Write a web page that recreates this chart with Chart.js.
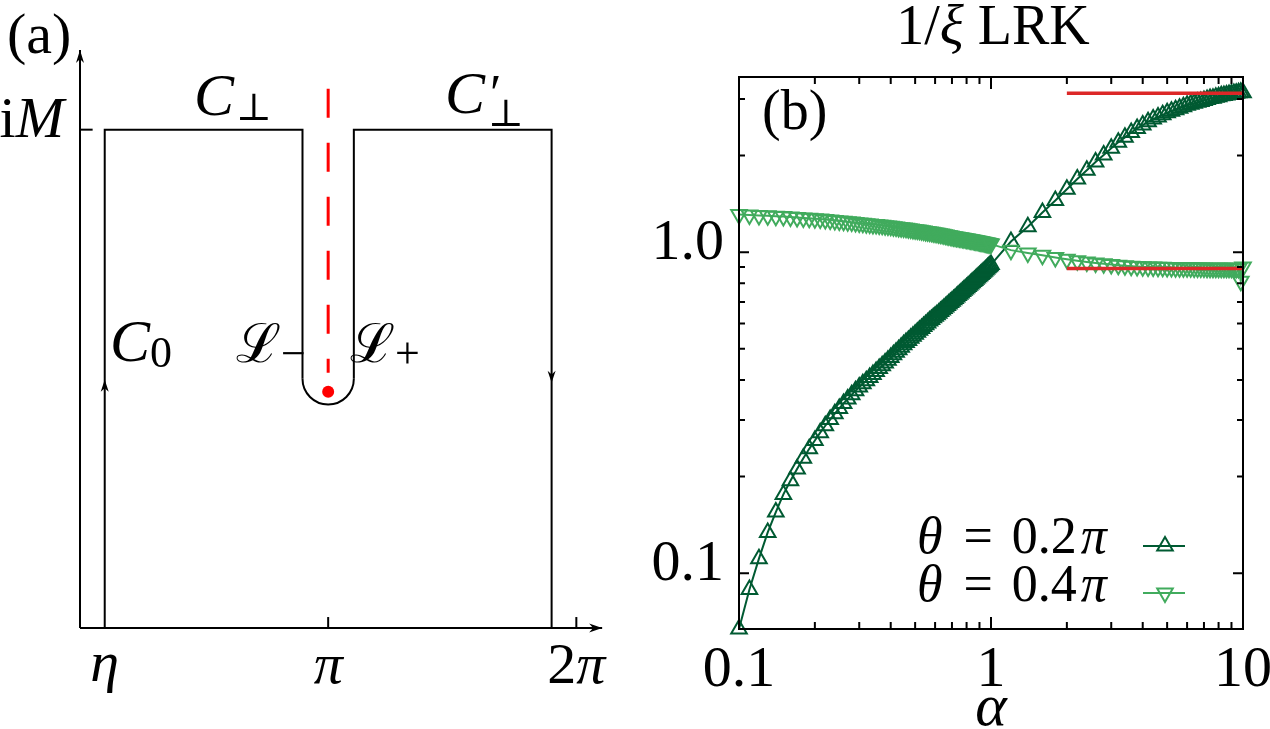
<!DOCTYPE html>
<html>
<head>
<meta charset="utf-8">
<script src="https://cdn.jsdelivr.net/npm/chart.js@4.4.1/dist/chart.umd.min.js"></script>
<style>
  html, body { margin: 0; padding: 0; background: #fff; }
  #wrap { position: relative; width: 1270px; height: 729px; overflow: hidden; background: #fff; }
  #contour { position: absolute; left: 0; top: 0; }
  #lrk { position: absolute; left: 620px; top: 0; }
</style>
</head>
<body>
<div id="wrap">
  <canvas id="contour" width="620" height="729"></canvas>
  <canvas id="lrk" width="650" height="729"></canvas>
</div>
<script>
// ---------- panel (b) data: 1/xi vs alpha, log-log ----------
const alpha = [
  0.10,0.11,0.12,0.13,0.14,0.15,0.16,0.17,0.18,0.19,
  0.20,0.21,0.22,0.23,0.24,0.25,0.26,0.27,0.28,0.29,
  0.30,0.31,0.32,0.33,0.34,0.35,0.36,0.37,0.38,0.39,
  0.40,0.41,0.42,0.43,0.44,0.45,0.46,0.47,0.48,0.49,
  0.50,0.51,0.52,0.53,0.54,0.55,0.56,0.57,0.58,0.59,
  0.60,0.61,0.62,0.63,0.64,0.65,0.66,0.67,0.68,0.69,
  0.70,0.71,0.72,0.73,0.74,0.75,0.76,0.77,0.78,0.79,
  0.80,0.81,0.82,0.83,0.84,0.85,0.86,0.87,0.88,0.89,
  0.90,0.91,0.92,0.93,0.94,0.95,0.96,0.97,0.98,0.99,
  1.00,
  1.2,1.4,1.6,1.8,2.0,2.2,2.4,2.6,2.8,3.0,
  3.2,3.4,3.6,3.8,4.0,4.2,4.4,4.6,4.8,5.0,
  5.2,5.4,5.6,5.8,6.0,6.2,6.4,6.6,6.8,7.0,
  7.2,7.4,7.6,7.8,8.0,8.2,8.4,8.6,8.8,9.0,
  9.2,9.4,9.6,9.8,10.0
];
// theta = 0.2 pi
const theta02 = [
  0.067,0.089,0.111,0.134,0.155,0.176,0.194,0.211,0.228,0.244,
  0.259,0.274,0.288,0.301,0.314,0.326,0.338,0.349,0.360,0.370,
  0.380,0.389,0.398,0.407,0.416,0.425,0.434,0.443,0.452,0.461,
  0.470,0.479,0.488,0.497,0.506,0.515,0.523,0.531,0.539,0.547,
  0.555,0.563,0.571,0.579,0.587,0.594,0.602,0.610,0.617,0.625,
  0.632,0.639,0.646,0.654,0.661,0.668,0.675,0.682,0.690,0.697,
  0.704,0.711,0.718,0.725,0.733,0.740,0.747,0.754,0.761,0.768,
  0.775,0.782,0.789,0.796,0.803,0.810,0.817,0.824,0.831,0.838,
  0.845,0.852,0.859,0.866,0.873,0.880,0.887,0.894,0.901,0.908,
  0.915,
  1.08,1.20,1.33,1.45,1.57,1.69,1.80,1.91,2.01,2.11,
  2.20,2.28,2.36,2.43,2.49,2.55,2.60,2.64,2.68,2.72,
  2.75,2.78,2.81,2.84,2.87,2.89,2.91,2.93,2.95,2.97,
  2.99,3.01,3.02,3.04,3.05,3.07,3.08,3.09,3.10,3.11,
  3.12,3.13,3.14,3.15,3.14
];
// theta = 0.4 pi
const theta04 = [
  1.310,1.306,1.302,1.298,1.295,1.291,1.287,1.283,1.279,1.275,
  1.271,1.268,1.264,1.260,1.256,1.252,1.248,1.245,1.241,1.237,
  1.233,1.230,1.227,1.224,1.221,1.219,1.216,1.213,1.210,1.207,
  1.204,1.201,1.198,1.195,1.192,1.190,1.187,1.184,1.181,1.178,
  1.175,1.172,1.170,1.167,1.164,1.161,1.159,1.156,1.153,1.150,
  1.148,1.145,1.142,1.139,1.137,1.134,1.131,1.128,1.126,1.123,
  1.120,1.118,1.116,1.114,1.112,1.110,1.108,1.106,1.104,1.102,
  1.100,1.098,1.096,1.094,1.092,1.090,1.088,1.086,1.084,1.082,
  1.080,1.078,1.076,1.074,1.072,1.070,1.068,1.066,1.064,1.062,
  1.060,
  1.015,0.995,0.978,0.963,0.951,0.941,0.933,0.926,0.920,0.915,
  0.911,0.908,0.905,0.903,0.901,0.900,0.899,0.898,0.897,0.896,
  0.896,0.895,0.895,0.894,0.894,0.894,0.893,0.893,0.893,0.893,
  0.892,0.892,0.892,0.892,0.892,0.891,0.891,0.891,0.891,0.891,
  0.891,0.890,0.890,0.812,0.900
];
// large-alpha asymptotes (red)
const asymX = [2, 10];
const asymHigh = [3.13, 3.13];
const asymLow = [0.889, 0.889];

const xMajor = [0.1, 1, 10];
const xMajorLabels = ['0.1', '1', '10'];
const xMinor = [0.2, 0.3, 0.4, 0.5, 0.6, 0.7, 0.8, 0.9, 2, 3, 4, 5, 6, 7, 8, 9];
const yMajor = [0.1, 1];
const yMajorLabels = ['0.1', '1.0'];
const yMinor = [0.2, 0.3, 0.4, 0.5, 0.6, 0.7, 0.8, 0.9, 2, 3];

// ---------- panel (a) data: integration contour ----------
const PI = Math.PI;
const eta = 0.313;
const slit = 0.325;             // half width of the keyhole around the cut
const axisEndX = 6.61, axisEndY = 1.16;
const contourLeftX = [eta, eta, PI - slit, PI - slit];
const contourLeftY = [0, 1, 1, 0.5];
const contourRightX = [PI + slit, PI + slit, 2 * PI - eta, 2 * PI - eta];
const contourRightY = [0.5, 1, 1, 0];
const cutX = [PI, PI];
const cutY = [1.082, 0.512];
const poleX = [PI];
const poleY = [0.474];
const diagTicks = [eta, PI, 2 * PI];
const diagTickLabels = ['η', 'π', '2π'];

const darkGreen = '#005a32';
const lightGreen = '#41ab5d';
const asymRed = '#dc2828';
const serif = '"Liberation Serif", "DejaVu Serif", serif';
const up = s => s + 'px ' + serif;
const it = s => 'italic ' + s + 'px ' + serif;

function pts(xs, ys) {
  return xs.map((v, i) => ({ x: v, y: ys[i] }));
}

// parts: [text, font, gapBefore, dy]
function rich(ctx, parts, x, y, align) {
  let w = 0;
  parts.forEach(p => { ctx.font = p[1]; w += (p[2] || 0) + ctx.measureText(p[0]).width; });
  let cx = align === 'center' ? x - w / 2 : (align === 'right' ? x - w : x);
  parts.forEach(p => {
    ctx.font = p[1];
    cx += p[2] || 0;
    ctx.fillText(p[0], cx, y + (p[3] || 0));
    cx += ctx.measureText(p[0]).width;
  });
}

function triangle(ctx, x, y, r, down) {
  const s = down ? -1 : 1;
  ctx.beginPath();
  ctx.moveTo(x, y - s * r);
  ctx.lineTo(x + r * 0.866, y + s * r / 2);
  ctx.lineTo(x - r * 0.866, y + s * r / 2);
  ctx.closePath();
  ctx.stroke();
}

function arrowHead(ctx, x, y, dx, dy, len, half) {
  const bx = x - dx * len, by = y - dy * len;
  const nx = x - dx * len * 0.7, ny = y - dy * len * 0.7;
  ctx.beginPath();
  ctx.moveTo(x, y);
  ctx.lineTo(bx - dy * half, by + dx * half);
  ctx.lineTo(nx, ny);
  ctx.lineTo(bx + dy * half, by - dx * half);
  ctx.closePath();
  ctx.fill();
}

// ---------- panel (a) ----------
const diagramDecor = {
  id: 'diagramDecor',
  afterDatasetsDraw(chart) {
    const { ctx, scales: { x, y } } = chart;
    ctx.save();
    ctx.strokeStyle = '#000';
    ctx.fillStyle = '#000';
    ctx.lineWidth = 2;
    // bottom of the keyhole
    const cx = x.getPixelForValue(PI), cy = y.getPixelForValue(0.5);
    const r = x.getPixelForValue(PI + slit) - cx;
    ctx.beginPath();
    ctx.arc(cx, cy, r, 0, Math.PI, false);
    ctx.stroke();
    // arrow heads
    arrowHead(ctx, x.getPixelForValue(0), y.getPixelForValue(axisEndY), 0, -1, 13, 4);
    arrowHead(ctx, x.getPixelForValue(axisEndX), y.getPixelForValue(0), 1, 0, 13, 4.5);
    arrowHead(ctx, x.getPixelForValue(eta), y.getPixelForValue(0.498), 0, -1, 12, 4);
    arrowHead(ctx, x.getPixelForValue(2 * PI - eta), y.getPixelForValue(0.492), 0, 1, 12, 4);

    ctx.textAlign = 'left';
    ctx.textBaseline = 'alphabetic';
    rich(ctx, [['(a)', up(58)]], 7, 53, 'left');
    rich(ctx, [['i', up(58)], ['M', it(58)]], 64, 137, 'right');
    rich(ctx, [['C', it(60)], ['⊥', up(38), 2, 5]], 194, 115, 'left');
    rich(ctx, [['C', it(60)], ['′', up(52), 5, -2]], 445, 113, 'left');
    rich(ctx, [['⊥', up(38)]], 488, 126, 'left');
    rich(ctx, [['C', it(60)], ['0', up(44), 0, 6]], 110, 361, 'left');
    rich(ctx, [['ℒ', '54px "DejaVu Serif"'], ['−', up(44), 0, 6]], 236, 362, 'left');
    rich(ctx, [['ℒ', '54px "DejaVu Serif"'], ['+', up(44), 0, 6]], 350, 362, 'left');
    const labY = [681, 683, 683];
    diagTicks.forEach((v, i) => {
      const lab = diagTickLabels[i];
      const parts = lab.length > 1 ? [[lab[0], up(58)], [lab.slice(1), it(58)]] : [[lab, it(58)]];
      rich(ctx, parts, x.getPixelForValue(v), labY[i], 'center');
    });
    ctx.restore();
  }
};

const black = { borderColor: '#000', borderWidth: 2, pointRadius: 0, showLine: true, clip: false };
new Chart(document.getElementById('contour'), {
  type: 'scatter',
  data: {
    datasets: [
      Object.assign({ data: pts([0, axisEndX], [0, 0]) }, black),
      Object.assign({ data: pts([0, 0], [0, axisEndY]) }, black),
      Object.assign({ data: pts([0, 0.16], [1, 1]) }, black),
      Object.assign({ data: pts([PI, PI], [0, 0.022]) }, black),
      Object.assign({ data: pts([2 * PI, 2 * PI], [0, 0.022]) }, black),
      Object.assign({ data: pts(contourLeftX, contourLeftY) }, black),
      Object.assign({ data: pts(contourRightX, contourRightY) }, black),
      { data: pts(cutX, cutY), borderColor: '#f00', borderWidth: 3, borderDash: [29, 25],
        pointRadius: 0, showLine: true, clip: false },
      { data: pts(poleX, poleY), pointRadius: 6, pointBackgroundColor: '#f00',
        pointBorderColor: '#f00', pointBorderWidth: 0, showLine: false, clip: false }
    ]
  },
  options: {
    responsive: false,
    animation: false,
    devicePixelRatio: 1,
    layout: { padding: { left: 80, right: 0, top: 30, bottom: 101 } },
    scales: {
      x: { type: 'linear', min: 0, max: 6.76, display: false },
      y: { type: 'linear', min: 0, max: 1.2, display: false }
    },
    plugins: { legend: { display: false }, tooltip: { enabled: false } }
  },
  plugins: [diagramDecor]
});

// ---------- panel (b) ----------
const frame = {
  id: 'frame',
  afterDraw(chart) {
    const { ctx, chartArea: a, scales: { x, y } } = chart;
    ctx.save();
    ctx.strokeStyle = '#000';
    ctx.fillStyle = '#000';
    ctx.lineWidth = 2;
    ctx.strokeRect(a.left, a.top, a.right - a.left, a.bottom - a.top);
    ctx.beginPath();
    const xt = (v, len) => {
      const p = x.getPixelForValue(v);
      ctx.moveTo(p, a.bottom); ctx.lineTo(p, a.bottom - len);
      ctx.moveTo(p, a.top); ctx.lineTo(p, a.top + len);
    };
    const yt = (v, len) => {
      const p = y.getPixelForValue(v);
      ctx.moveTo(a.left, p); ctx.lineTo(a.left + len, p);
      ctx.moveTo(a.right, p); ctx.lineTo(a.right - len, p);
    };
    xMajor.forEach(v => xt(v, 12));
    xMinor.forEach(v => xt(v, 7));
    yMajor.forEach(v => yt(v, 10));
    yMinor.forEach(v => yt(v, 6));
    ctx.stroke();

    ctx.textBaseline = 'alphabetic';
    ctx.textAlign = 'left';
    xMajor.forEach((v, i) => rich(ctx, [[xMajorLabels[i], up(58)]], x.getPixelForValue(v), a.bottom + 57, 'center'));
    yMajor.forEach((v, i) => rich(ctx, [[yMajorLabels[i], up(58)]], a.left - 15, y.getPixelForValue(v) + 7, 'right'));
    rich(ctx, [['α', it(60)]], x.getPixelForValue(1), a.bottom + 96, 'center');
    rich(ctx, [['1/', up(56)], ['ξ', it(56)], [' LRK', up(56)]], (a.left + a.right) / 2 + 2, a.top - 33, 'center');
    rich(ctx, [['(b)', up(56)]], a.left + 23, a.top + 52, 'left');

    // key
    const keys = [
      { label: '0.2', color: darkGreen, down: false, ty: a.bottom - 76, ly: a.bottom - 83 },
      { label: '0.4', color: lightGreen, down: true, ty: a.bottom - 28, ly: a.bottom - 36 }
    ];
    keys.forEach(k => {
      ctx.fillStyle = '#000';
      rich(ctx, [['θ', it(52)], ['=', up(52), 21], [k.label, up(52), 19], ['π', it(52), 4]], a.left + 178, k.ty, 'left');
      ctx.strokeStyle = k.color;
      ctx.lineWidth = 2;
      ctx.beginPath();
      ctx.moveTo(a.left + 404, k.ly);
      ctx.lineTo(a.left + 446, k.ly);
      ctx.stroke();
      triangle(ctx, a.left + 426, k.ly, 9, k.down);
    });
    ctx.restore();
  }
};

new Chart(document.getElementById('lrk'), {
  type: 'scatter',
  data: {
    datasets: [
      { data: pts(asymX, asymHigh), borderColor: asymRed, borderWidth: 3.5, pointRadius: 0,
        showLine: true, clip: false, order: 0 },
      { data: pts(asymX, asymLow), borderColor: asymRed, borderWidth: 3.5, pointRadius: 0,
        showLine: true, clip: false, order: 0 },
      { label: 'θ = 0.4π', data: pts(alpha, theta04), borderColor: lightGreen, borderWidth: 2,
        pointStyle: 'triangle', rotation: 180, pointRadius: 9, pointBorderWidth: 2,
        pointBorderColor: lightGreen, pointBackgroundColor: 'rgba(0,0,0,0)',
        showLine: true, clip: false, order: 1 },
      { label: 'θ = 0.2π', data: pts(alpha, theta02), borderColor: darkGreen, borderWidth: 2,
        pointStyle: 'triangle', pointRadius: 9, pointBorderWidth: 2,
        pointBorderColor: darkGreen, pointBackgroundColor: 'rgba(0,0,0,0)',
        showLine: true, clip: false, order: 2 }
    ]
  },
  options: {
    responsive: false,
    animation: false,
    devicePixelRatio: 1,
    layout: { padding: { left: 119, right: 27, top: 77, bottom: 100 } },
    scales: {
      x: { type: 'logarithmic', min: 0.1, max: 10, display: false },
      y: { type: 'logarithmic', min: 0.067, max: 3.515, display: false }
    },
    plugins: { legend: { display: false }, tooltip: { enabled: false } }
  },
  plugins: [frame]
});
</script>
</body>
</html>
